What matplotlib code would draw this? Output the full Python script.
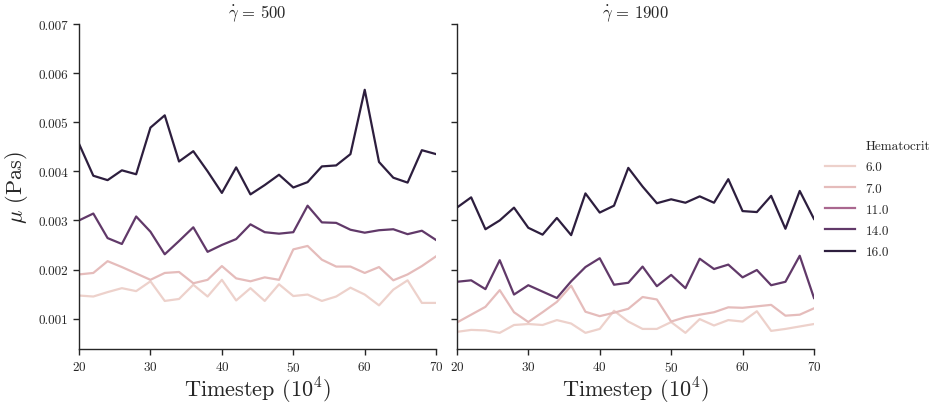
"""
Apparent viscosity over time for two shear rates, one line per hematocrit.
"""
import matplotlib
matplotlib.use("Agg")
import matplotlib.pyplot as plt
from matplotlib.colors import Normalize
from matplotlib.lines import Line2D
import seaborn as sns

plt.rcParams["font.family"] = "serif"
plt.rcParams["font.serif"] = ["cmr10"]
plt.rcParams["mathtext.fontset"] = "cm"
plt.rcParams["axes.formatter.use_mathtext"] = True

timesteps = [20, 22, 24, 26, 28, 30, 32, 34, 36, 38, 40, 42, 44,
             46, 48, 50, 52, 54, 56, 58, 60, 62, 64, 66, 68, 70]
hematocrit_levels = [6.0, 7.0, 11.0, 14.0, 16.0]
shear_rates = [500, 1900]

# shear rate 500
mu_500_h6 = [0.00147, 0.00145, 0.00154, 0.00162, 0.00156, 0.00176, 0.00136,
             0.00140, 0.00169, 0.00145, 0.00179, 0.00137, 0.00162, 0.00136,
             0.00170, 0.00146, 0.00149, 0.00136, 0.00145, 0.00163, 0.00149,
             0.00127, 0.00159, 0.00178, 0.00132, 0.00132]
mu_500_h7 = [0.00190, 0.00193, 0.00217, 0.00205, 0.00192, 0.00179, 0.00193,
             0.00195, 0.00172, 0.00179, 0.00207, 0.00182, 0.00176, 0.00184,
             0.00179, 0.00241, 0.00248, 0.00220, 0.00206, 0.00206, 0.00193,
             0.00205, 0.00178, 0.00190, 0.00207, 0.00227]
mu_500_h14 = [0.00300, 0.00314, 0.00264, 0.00252, 0.00308, 0.00277, 0.00231,
              0.00258, 0.00286, 0.00236, 0.00250, 0.00262, 0.00292, 0.00276,
              0.00273, 0.00276, 0.00330, 0.00296, 0.00295, 0.00281, 0.00275,
              0.00280, 0.00282, 0.00272, 0.00279, 0.00260]
mu_500_h16 = [0.00456, 0.00391, 0.00382, 0.00402, 0.00394, 0.00489, 0.00514,
              0.00420, 0.00441, 0.00400, 0.00356, 0.00408, 0.00353, 0.00372,
              0.00393, 0.00367, 0.00378, 0.00410, 0.00412, 0.00435, 0.00566,
              0.00419, 0.00387, 0.00377, 0.00443, 0.00435]

# shear rate 1900
mu_1900_h6 = [0.00073, 0.00077, 0.00076, 0.00071, 0.00087, 0.00089, 0.00087,
              0.00097, 0.00090, 0.00071, 0.00079, 0.00116, 0.00094, 0.00079,
              0.00079, 0.00093, 0.00071, 0.00099, 0.00086, 0.00097, 0.00094,
              0.00115, 0.00075, 0.00079, 0.00084, 0.00089]
mu_1900_h7 = [0.00092, 0.00108, 0.00124, 0.00158, 0.00113, 0.00093, 0.00113,
              0.00134, 0.00167, 0.00114, 0.00105, 0.00112, 0.00120, 0.00144,
              0.00139, 0.00094, 0.00103, 0.00108, 0.00113, 0.00123, 0.00122,
              0.00125, 0.00128, 0.00106, 0.00108, 0.00121]
mu_1900_h14 = [0.00175, 0.00178, 0.00160, 0.00219, 0.00149, 0.00168, 0.00155,
               0.00142, 0.00176, 0.00205, 0.00223, 0.00169, 0.00173, 0.00206,
               0.00166, 0.00189, 0.00162, 0.00222, 0.00201, 0.00210, 0.00184,
               0.00199, 0.00168, 0.00175, 0.00228, 0.00142]
mu_1900_h16 = [0.00326, 0.00347, 0.00282, 0.00300, 0.00326, 0.00285, 0.00271,
               0.00305, 0.00270, 0.00355, 0.00316, 0.00330, 0.00407, 0.00369,
               0.00335, 0.00343, 0.00336, 0.00349, 0.00336, 0.00384, 0.00319,
               0.00317, 0.00350, 0.00283, 0.00360, 0.00303]

series = {
    500: {6.0: mu_500_h6, 7.0: mu_500_h7, 14.0: mu_500_h14, 16.0: mu_500_h16},
    1900: {6.0: mu_1900_h6, 7.0: mu_1900_h7, 14.0: mu_1900_h14, 16.0: mu_1900_h16},
}

cmap = sns.cubehelix_palette(as_cmap=True)
norm = Normalize(min(hematocrit_levels), max(hematocrit_levels))
ink = "#262626"

fig, axes = plt.subplots(1, 2, figsize=(9.43, 4.06), dpi=100, sharey=True)
fig.subplots_adjust(left=0.0838, right=0.8632, bottom=0.139, top=0.9384,
                    wspace=0.058)

for ax, rate in zip(axes, shear_rates):
    for hct, vals in series[rate].items():
        ax.plot(timesteps, vals, color=cmap(norm(hct)), lw=1.6)
    ax.set_title(rf"$\dot{{\gamma}}\, =\, {rate}$", fontsize=12, color=ink, pad=5)
    ax.set_xlim(20, 70)
    ax.set_xticks([20, 30, 40, 50, 60, 70])
    ax.set_ylim(0.00039, 0.007)
    ax.set_yticks([0.001, 0.002, 0.003, 0.004, 0.005, 0.006, 0.007])
    ax.set_yticklabels(["0.001", "0.002", "0.003", "0.004", "0.005", "0.006", "0.007"])
    ax.set_xlabel(r"Timestep $(10^4)$", fontsize=16, color=ink, labelpad=1)
    ax.tick_params(labelsize=9.5, colors=ink, length=4.5, width=1.0)
    for side in ("top", "right"):
        ax.spines[side].set_visible(False)
    for side in ("left", "bottom"):
        ax.spines[side].set_color(ink)
        ax.spines[side].set_linewidth(1.0)

axes[0].set_ylabel(r"$\mu$ (Pas)", fontsize=16, color=ink, labelpad=6)
axes[1].tick_params(labelleft=False)

handles = [Line2D([], [], color="none")]
labels = ["Hematocrit"]
for hct in hematocrit_levels:
    handles.append(Line2D([], [], color=cmap(norm(hct)), lw=1.6))
    labels.append(f"{hct:.1f}")
leg = fig.legend(handles, labels, loc="center left", bbox_to_anchor=(0.862, 0.507),
                 frameon=False, fontsize=9.5, handlelength=2.3, handletextpad=0.8,
                 labelspacing=0.68)
for text in leg.get_texts():
    text.set_color(ink)

fig.savefig("out.png", dpi=100)
